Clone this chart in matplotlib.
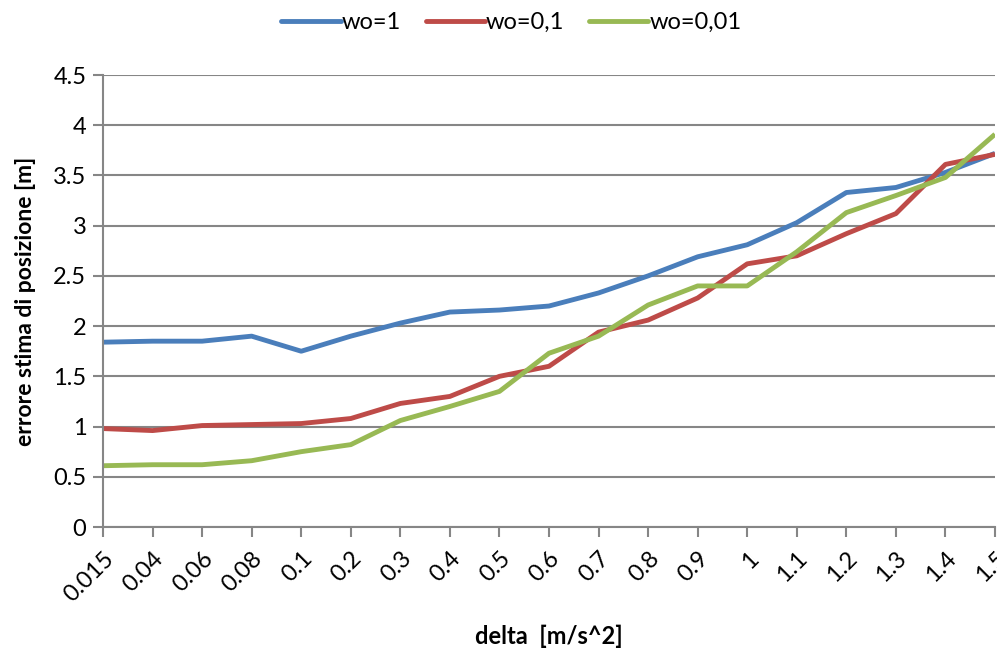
import numpy as np
import matplotlib.pyplot as plt

plt.rcParams['font.family'] = ['Lato', 'DejaVu Sans']

# categorie dell'asse x (delta)
delta_labels = ['0.015', '0.04', '0.06', '0.08', '0.1', '0.2', '0.3', '0.4', '0.5', '0.6',
                '0.7', '0.8', '0.9', '1', '1.1', '1.2', '1.3', '1.4', '1.5']

# errore di stima per i tre valori di wo
err_wo_1 = [1.84, 1.85, 1.85, 1.90, 1.75, 1.90, 2.03, 2.14, 2.16, 2.20,
            2.33, 2.50, 2.69, 2.81, 3.03, 3.33, 3.38, 3.53, 3.72]
err_wo_01 = [0.98, 0.96, 1.01, 1.02, 1.03, 1.08, 1.23, 1.30, 1.50, 1.60,
             1.94, 2.06, 2.28, 2.62, 2.70, 2.92, 3.12, 3.61, 3.71]
err_wo_001 = [0.61, 0.62, 0.62, 0.66, 0.75, 0.82, 1.06, 1.20, 1.35, 1.73,
              1.90, 2.21, 2.40, 2.40, 2.74, 3.13, 3.30, 3.48, 3.91]

series = [('wo=1', err_wo_1, '#4A7EBB'),
          ('wo=0,1', err_wo_01, '#BE4B48'),
          ('wo=0,01', err_wo_001, '#98B954')]

fig = plt.figure(figsize=(9.97, 6.5), dpi=100)
ax = fig.add_axes([103 / 997, 1 - 527 / 650, 892 / 997, 452 / 650])

x = np.arange(len(delta_labels))
for name, vals, col in series:
    ax.plot(x, vals, color=col, linewidth=3.5, label=name, solid_capstyle='butt')

ax.set_xlim(0, len(delta_labels) - 1)
ax.set_ylim(0, 4.5)
ax.set_yticks(np.arange(0, 4.51, 0.5))
ax.set_yticklabels(['0', '0.5', '1', '1.5', '2', '2.5', '3', '3.5', '4', '4.5'])
ax.set_xticks(x)
ax.set_xticklabels(delta_labels, rotation=45, ha='right', va='top', rotation_mode='anchor')

ax.grid(axis='y', color='#868686', linewidth=1.5)
ax.set_axisbelow(True)
for s in ['top', 'right']:
    ax.spines[s].set_visible(False)
for s in ['left', 'bottom']:
    ax.spines[s].set_color('#868686')
    ax.spines[s].set_linewidth(1.5)
ax.tick_params(axis='both', colors='#868686', length=7, width=1.5, labelcolor='black', labelsize=17)
ax.tick_params(axis='y', pad=5)
ax.tick_params(axis='x', pad=8)

ax.set_xlabel('delta  [m/s^2]', fontsize=17, fontweight='bold', labelpad=14)
ax.set_ylabel('errore stima di posizione [m]', fontsize=16.5, fontweight='bold', labelpad=12)

leg = fig.legend(loc='upper center', bbox_to_anchor=(0.513, 1.014), ncol=3, frameon=False,
                 fontsize=17, handlelength=2.5, handletextpad=0.05, columnspacing=1.05)
for h in leg.get_lines():
    h.set_solid_capstyle('round')

fig.savefig('out.png', dpi=100)
